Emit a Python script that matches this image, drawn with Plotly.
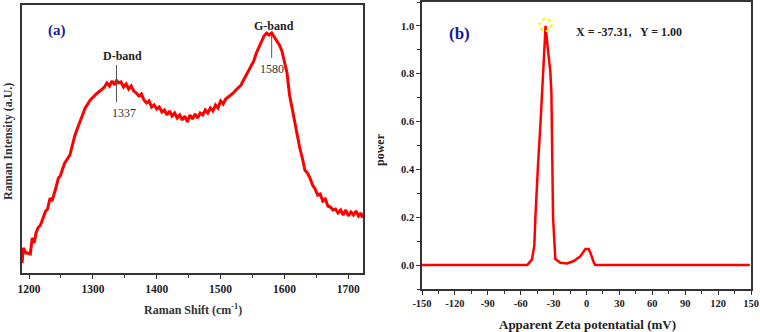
import plotly.graph_objects as go

# ---------------- data: panel (a) Raman spectrum ----------------
raman_shift = [1189, 1191, 1195, 1198, 1202, 1205, 1208, 1211, 1214, 1218, 1222, 1226, 1229,
               1233, 1236, 1239, 1242, 1246, 1249, 1253, 1256, 1260, 1264, 1268, 1272, 1276,
               1280, 1288, 1296, 1303, 1307, 1313, 1318, 1322, 1326, 1330, 1334, 1337, 1340,
               1344, 1348, 1352, 1356, 1360, 1364, 1368, 1372, 1376, 1380, 1384, 1388, 1392,
               1396, 1400, 1404, 1408, 1412, 1416, 1420, 1424, 1428, 1432, 1436, 1440, 1444,
               1448, 1452, 1456, 1460, 1464, 1468, 1472, 1476, 1480, 1484, 1488, 1492, 1496,
               1500, 1504, 1508, 1512, 1516, 1520, 1524, 1528, 1532, 1536, 1540, 1544, 1548,
               1552, 1556, 1560, 1564, 1568, 1572, 1576, 1580, 1584, 1588, 1592, 1596, 1600,
               1604, 1608, 1612, 1616, 1620, 1624, 1628, 1632, 1636, 1640, 1644, 1648, 1652,
               1656, 1660, 1664, 1668, 1672, 1676, 1680, 1684, 1688, 1692, 1696, 1700, 1704,
               1708, 1712, 1716, 1720, 1722]
raman_intensity = [10, 25, 20, 20, 19, 35, 30, 40, 45, 48, 55, 62, 64,
                   75, 72, 80, 85, 95, 97, 105, 110, 114, 118, 128, 138, 145,
                   152, 165, 173, 178, 180, 183, 186, 190, 187, 192, 188, 193, 190,
                   191, 186, 189, 184, 187, 182, 180, 177, 179, 173, 170, 172, 166,
                   168, 164, 166, 161, 163, 158, 162, 157, 160, 155, 158, 153, 157,
                   151, 158, 154, 159, 155, 160, 158, 163, 160, 165, 162, 168, 165,
                   172, 169, 174, 176, 178, 180, 183, 186, 188, 193, 198, 202, 208,
                   212, 220, 226, 232, 237, 240, 238, 240, 236, 233, 228, 222, 212,
                   200, 178, 165, 150, 138, 125, 115, 103, 100, 95, 88, 84, 78,
                   79, 72, 74, 67, 66, 63, 64, 60, 63, 58, 63, 57, 61,
                   58, 62, 57, 60, 55]
raman_ticks = [1200, 1300, 1400, 1500, 1600, 1700]
band_names = ["D-band", "G-band"]
band_positions = [1337, 1580]
band_line_top = [208, 238]
band_line_bottom = [171, 215]

# ---------------- data: panel (b) zeta potential ----------------
zeta_mv = [-150, -54, -49.7, -47.6, -46.6, -45, -44.2, -42, -40.5, -39.3, -38.5, -37.31,
           -35.4, -33, -32, -31.4, -30.5, -28.4, -23.8, -17.6, -11.6, -5.5, -1, 2, 3.7,
           6.7, 8, 149]
zeta_power = [0, 0, 0.024, 0.08, 0.2, 0.36, 0.42, 0.59, 0.72, 0.78, 0.85, 1.0,
              0.91, 0.81, 0.72, 0.55, 0.2, 0.025, 0.01, 0.007, 0.017, 0.037, 0.067, 0.067, 0.05,
              0.01, 0, 0]
zeta_ticks = [-150, -120, -90, -60, -30, 0, 30, 60, 90, 120, 150]
power_ticks = [0.0, 0.2, 0.4, 0.6, 0.8, 1.0]
peak_x = -37.31
peak_y = 1.00

W, H = 760, 332


def px(x):
    return x / W


def py(y):
    return 1 - y / H


serif = "Liberation Serif"
frame = "#333"
label_shift = {"D-band": (6, 7), "G-band": (2, 0)}  # (name xshift, number xshift)

fig = go.Figure()
fig.add_trace(go.Scatter(x=raman_shift, y=raman_intensity, mode="lines",
                         line=dict(color="#ff0000", width=3), xaxis="x", yaxis="y",
                         showlegend=False))
fig.add_trace(go.Scatter(x=zeta_mv, y=zeta_power, mode="lines",
                         line=dict(color="#ff0000", width=2.5), xaxis="x2", yaxis="y2",
                         showlegend=False))


def axis_common(size):
    return dict(showline=True, linecolor=frame, linewidth=1.5, mirror=True,
                showgrid=False, zeroline=False, automargin=False,
                tickfont=dict(family=serif, size=size, color="#222", weight="bold"),
                ticks="outside", ticklen=4, tickcolor=frame, tickwidth=1)


fig.update_layout(
    width=W, height=H, margin=dict(l=0, r=0, t=0, b=0, autoexpand=False),
    plot_bgcolor="white", paper_bgcolor="white",
    xaxis=dict(domain=[px(22), px(363)], anchor="y", range=[1189, 1723],
               tickvals=raman_ticks, ticktext=[str(v) for v in raman_ticks],
               minor=dict(tickvals=[1250, 1350, 1450, 1550, 1650], ticks="outside",
                          ticklen=3, tickcolor=frame),
               **axis_common(11.5)),
    yaxis=dict(domain=[py(273), py(5)], anchor="x", range=[0, 268], automargin=False,
               showline=True, linecolor=frame, linewidth=1.5, mirror=True,
               showgrid=False, zeroline=False, showticklabels=False, ticks=""),
    xaxis2=dict(domain=[px(422), px(751)], anchor="y2", range=[-150, 150],
                tickvals=zeta_ticks, ticktext=[str(v) for v in zeta_ticks],
                minor=dict(dtick=15, ticks="outside", ticklen=3, tickcolor=frame),
                **axis_common(10.5)),
    yaxis2=dict(domain=[py(289), py(2)], anchor="x2", range=[-0.1, 1.1],
                tickvals=power_ticks, ticktext=["%.1f" % v for v in power_ticks],
                minor=dict(dtick=0.1, ticks="outside", ticklen=3, tickcolor=frame),
                **axis_common(10.5)),
)

# band marker lines and labels
for name, pos, top, bot in zip(band_names, band_positions, band_line_top, band_line_bottom):
    sx_name, sx_num = label_shift[name]
    fig.add_shape(type="line", xref="x", yref="y", x0=pos, x1=pos, y0=bot, y1=top,
                  line=dict(color="#555", width=1))
    fig.add_annotation(x=pos, y=top, xref="x", yref="y", text="<b>%s</b>" % name,
                       showarrow=False, xanchor="center", yanchor="bottom", yshift=0,
                       xshift=sx_name, font=dict(family=serif, size=12, color="#222"))
    fig.add_annotation(x=pos, y=bot, xref="x", yref="y", text=str(pos),
                       showarrow=False, xanchor="center", yanchor="top", yshift=-2,
                       xshift=sx_num, font=dict(family=serif, size=12, color="#333"))

# dotted yellow circle at the peak
fig.add_shape(type="circle", xref="x2", yref="y2", xsizemode="pixel", ysizemode="pixel",
              xanchor=peak_x, yanchor=peak_y, x0=-6, x1=6, y0=-5, y1=7,
              line=dict(color="#ffee00", width=2, dash="dot"))


def paper_text(x, y, text, size, color="#222", xanchor="center", angle=0):
    fig.add_annotation(x=px(x), y=py(y), xref="paper", yref="paper", text=text,
                       showarrow=False, xanchor=xanchor, yanchor="middle", textangle=angle,
                       font=dict(family=serif, size=size, color=color))


# panel labels and texts
paper_text(57, 30, "<b>(a)</b>", 15, color="#1a1aa0")
paper_text(459, 33, "<b>(b)</b>", 17, color="#1a1aa0")
paper_text(574, 32, "<b>X = %.2f,&nbsp;&nbsp; Y = %.2f</b>" % (peak_x, peak_y), 12,
           xanchor="left")

# axis titles
paper_text(193, 309, "<b>Raman Shift (cm<sup>-1</sup>)</b>", 12, color="#333")
paper_text(8, 142, "<b>Raman Intensity (a.U.)</b>", 12, color="#333", angle=-90)
paper_text(587, 324, "<b>Apparent Zeta potentatial (mV)</b>", 13)
paper_text(380, 150, "<b>power</b>", 12, angle=-90)

fig.write_html("out.html", config={"displayModeBar": False},
               post_script="document.body.style.margin='0';document.body.style.padding='0';")
